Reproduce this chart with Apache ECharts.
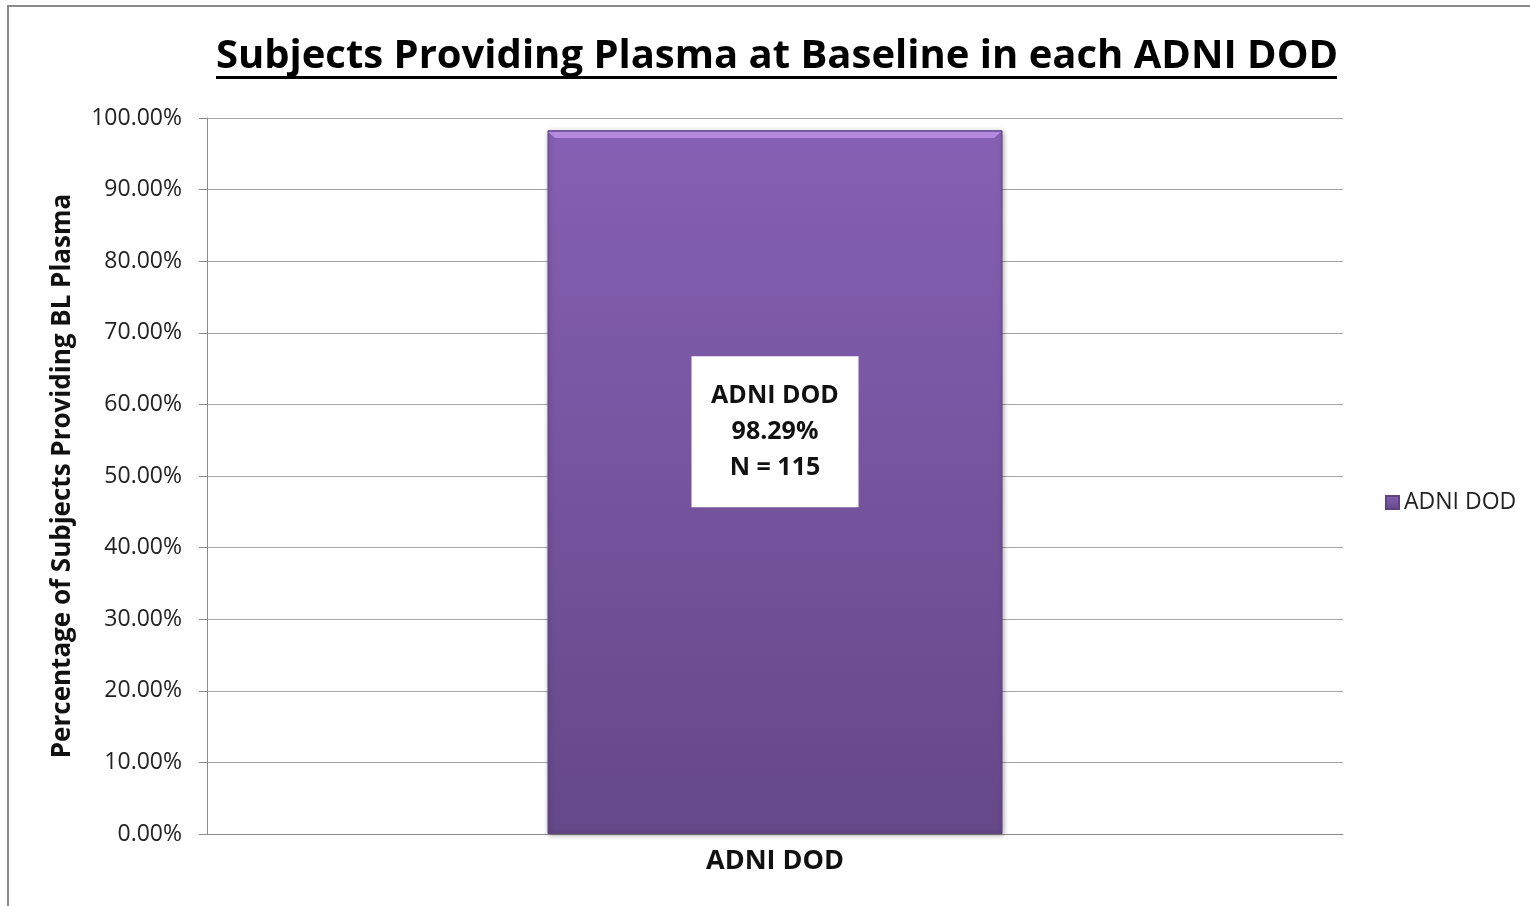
<!DOCTYPE html>
<html><head><meta charset="utf-8">
<script src="https://cdn.jsdelivr.net/npm/echarts@6/dist/echarts.min.js"></script>
<style>html,body{margin:0;padding:0;background:#fff}#c{width:1530px;height:906px}</style>
</head><body><div id="c"></div>
<script>
const titleText = 'Subjects Providing Plasma at Baseline in each ADNI DOD';
const categories = ['ADNI DOD'];
const seriesName = 'ADNI DOD';
const values = [98.29];
const counts = [115];
const yAxisName = 'Percentage of Subjects Providing BL Plasma';

const FONT = '"Open Sans", Lato, sans-serif';
const chart = echarts.init(document.getElementById('c'), null, {renderer: 'canvas'});
chart.setOption({
  animation: false,
  backgroundColor: '#fff',
  title: {
    text: titleText, left: 772, top: 32, textAlign: 'center',
    textStyle: {fontFamily: FONT, fontWeight: 'bold', fontSize: 40, color: '#000'}
  },
  legend: {
    data: [seriesName], left: 1380, top: 486, orient: 'vertical',
    itemWidth: 13, itemHeight: 13, itemGap: 6, icon: 'rect',
    textStyle: {fontFamily: FONT, fontSize: 23, color: '#222'}
  },
  grid: {left: 207, right: 187, top: 118, bottom: 72},
  xAxis: {
    type: 'category', data: categories,
    axisLine: {lineStyle: {color: '#8c8c8c', width: 1}},
    axisTick: {show: false},
    axisLabel: {fontFamily: FONT, fontWeight: 'bold', fontSize: 27, color: '#111', margin: 14}
  },
  yAxis: {
    type: 'value', min: 0, max: 100, interval: 10,
    name: yAxisName, nameLocation: 'middle', nameGap: 131, nameRotate: 90,
    nameTextStyle: {fontFamily: FONT, fontWeight: 'bold', fontSize: 26, color: '#111'},
    axisLine: {show: true, lineStyle: {color: '#8c8c8c'}},
    axisTick: {show: true, inside: false, length: 8, lineStyle: {color: '#8c8c8c'}},
    splitLine: {lineStyle: {color: '#a6a6a6', width: 1}},
    axisLabel: {formatter: v => v.toFixed(2) + '%', fontFamily: FONT, fontSize: 23, color: '#222', margin: 25}
  },
  series: [{
    name: seriesName, type: 'bar', data: values, barWidth: 455,
    itemStyle: {
      color: new echarts.graphic.LinearGradient(0, 0, 0, 1, [
        {offset: 0, color: '#8660b4'}, {offset: 1, color: '#654888'}
      ]),
      borderColor: '#5e4580', borderWidth: 1,
      shadowColor: 'rgba(0,0,0,0.35)', shadowBlur: 5, shadowOffsetX: 1, shadowOffsetY: 1
    },
    label: {
      show: true, position: ['50%', 226], align: 'center', verticalAlign: 'top',
      formatter: p => categories[p.dataIndex] + '\n' + p.value.toFixed(2) + '%\nN = ' + counts[p.dataIndex],
      backgroundColor: '#fff', padding: [22, 17, 21, 17], width: 133,
      fontFamily: FONT, fontWeight: 'bold', fontSize: 25, lineHeight: 36, color: '#111'
    }
  }],
  graphic: [
    {type: 'rect', shape: {x: 8, y: 6, width: 1600, height: 1000}, style: {fill: 'none', stroke: '#8a8a8a', lineWidth: 2}, silent: true},
    {type: 'polygon', shape: {points: [[548, 132], [1001, 132], [994, 138], [555, 138]]}, style: {fill: '#b48ade'}, silent: true, z: 10},
    {type: 'rect', shape: {x: 216, y: 76, width: 1121, height: 3}, style: {fill: '#000'}, silent: true}
  ]
});
</script></body></html>
